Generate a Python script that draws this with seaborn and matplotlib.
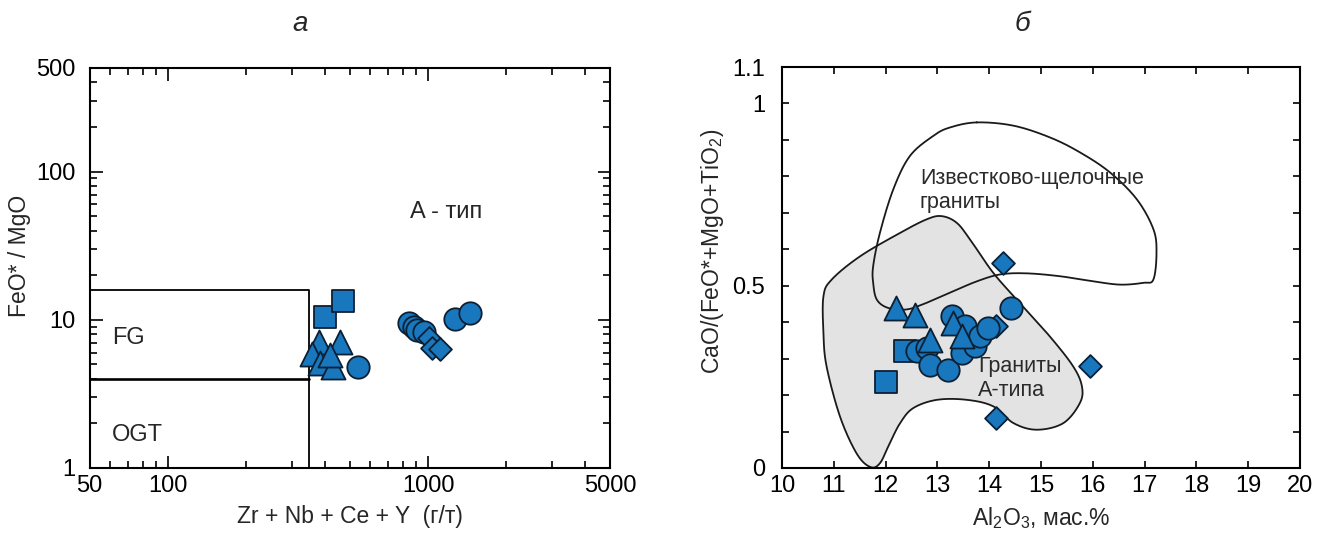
import numpy as np
import pandas as pd
import matplotlib
matplotlib.use("Agg")
import matplotlib.pyplot as plt
from matplotlib.ticker import FixedLocator, FixedFormatter, NullFormatter
import seaborn as sns

# ---------------- Panel а: Zr+Nb+Ce+Y (г/т) vs FeO*/MgO ----------------
sq_a_x = [400, 473]
sq_a_y = [10.5, 13.3]
tri_a_x = [380, 460, 358, 385, 433, 420]
tri_a_y = [7.1, 7.1, 5.9, 5.1, 4.8, 5.8]
circ_a_x = [538, 842, 880, 906, 961, 1273, 1452]
circ_a_y = [4.8, 9.5, 9.0, 8.5, 8.3, 10.2, 11.1]
dia_a_x = [1005, 1035, 1114]
dia_a_y = [7.5, 6.5, 6.4]

# field boundaries (Whalen et al.): FG / OGT box
fg_x_max = 350
fg_y_low, fg_y_high = 4, 16

xticks_a = [50, 100, 1000, 5000]
yticks_a = [1, 10, 100, 500]

# ---------------- Panel б: Al2O3 vs CaO/(FeO*+MgO+TiO2) ----------------
sq_b_x = [12.37, 12.01]
sq_b_y = [0.320, 0.237]
tri_b_x = [12.21, 12.57, 12.86, 13.31, 13.47]
tri_b_y = [0.439, 0.421, 0.352, 0.398, 0.361]
circ_b_x = [12.60, 12.79, 12.86, 13.21, 13.28, 13.47, 13.53, 13.73, 13.82, 13.98, 14.43]
circ_b_y = [0.320, 0.329, 0.283, 0.270, 0.416, 0.315, 0.389, 0.334, 0.361, 0.384, 0.439]
dia_b_x = [14.26, 15.95, 14.13, 14.14]
dia_b_y = [0.563, 0.279, 0.137, 0.389]

# outline of the A-type granite field
a_type_x = [11.70, 11.44, 11.12, 10.86, 10.80, 10.80, 10.96, 11.51, 12.28, 12.79,
            13.08, 13.37, 13.63, 14.08, 14.59, 15.17, 15.62, 15.79, 15.75, 15.43,
            14.92, 14.47, 14.08, 13.57, 12.99, 12.53, 12.28, 12.08, 11.89]
a_type_y = [0.003, 0.040, 0.141, 0.279, 0.370, 0.471, 0.517, 0.581, 0.645, 0.682,
            0.691, 0.673, 0.627, 0.535, 0.453, 0.361, 0.279, 0.224, 0.178, 0.123,
            0.105, 0.123, 0.169, 0.187, 0.187, 0.164, 0.123, 0.068, 0.013]

# outline of the calc-alkaline granite field
ca_x = [13.76, 14.47, 15.17, 15.75, 16.33, 16.85, 17.17, 17.23, 17.17, 16.98,
        16.53, 16.01, 15.37, 14.72, 14.21, 13.76, 13.31, 12.79, 12.41, 12.05,
        11.83, 11.76, 11.76, 11.89, 12.15, 12.47, 12.92, 13.24]
ca_y = [0.948, 0.939, 0.907, 0.866, 0.811, 0.737, 0.655, 0.590, 0.517, 0.508,
        0.503, 0.512, 0.526, 0.534, 0.531, 0.512, 0.485, 0.453, 0.435, 0.439,
        0.462, 0.508, 0.554, 0.645, 0.765, 0.856, 0.911, 0.934]

xticks_b = list(range(10, 21))
yticks_b = [round(0.1 * i, 1) for i in range(12)]
ylabels_b = ["0", "", "", "", "", "0.5", "", "", "", "", "1", "1.1"]

FILL = "#1877bd"
EDGE = "#0c2033"
FIELD_GREY = "#e3e3e3"

sns.set_style("ticks")
plt.rcParams["font.family"] = ["Liberation Sans", "DejaVu Sans"]
plt.rcParams["mathtext.fontset"] = "custom"
plt.rcParams["mathtext.rm"] = "Liberation Sans"
plt.rcParams["mathtext.it"] = "Liberation Sans:italic"
plt.rcParams["mathtext.bf"] = "Liberation Sans:bold"


def closed_spline(xs, ys, n=24):
    """Smooth closed Catmull-Rom curve through the outline vertices."""
    p = np.column_stack([xs, ys])
    m = len(p)
    t = np.linspace(0, 1, n, endpoint=False)[:, None]
    segs = []
    for i in range(m):
        p0, p1, p2, p3 = p[(i - 1) % m], p[i], p[(i + 1) % m], p[(i + 2) % m]
        segs.append(0.5 * (2 * p1 + (-p0 + p2) * t
                           + (2 * p0 - 5 * p1 + 4 * p2 - p3) * t ** 2
                           + (-p0 + 3 * p1 - 3 * p2 + p3) * t ** 3))
    c = np.vstack(segs)
    c = np.vstack([c, c[:1]])
    return c[:, 0], c[:, 1]


def make_frame(groups):
    parts = [pd.DataFrame({"x": gx, "y": gy, "kind": k}) for k, gx, gy in groups]
    return pd.concat(parts, ignore_index=True)


marker_styles = {
    "square": ("s", 235),
    "diamond": ("D", 135),
    "circle": ("o", 260),
    "triangle": ("^", 300),
}


def draw_points(ax, df, order):
    for i, kind in enumerate(order):
        mk, size = marker_styles[kind]
        sub = df[df["kind"] == kind]
        sns.scatterplot(data=sub, x="x", y="y", marker=mk, s=size, color=FILL,
                        edgecolor=EDGE, linewidth=1.3, ax=ax, legend=False,
                        zorder=5 + i)


fig = plt.figure(figsize=(13.33, 5.34), dpi=100)
W, H = 1333, 534
ax_a = fig.add_axes([89.5 / W, 66 / H, 520.5 / W, 400 / H])
ax_b = fig.add_axes([782 / W, 66 / H, 518 / W, 401 / H])

TICK_FS = 17
LABEL_FS = 16.5
NOTE_FS = 17
FIELD_FS = 15.5

# ---------- panel а ----------
df_a = make_frame([("square", sq_a_x, sq_a_y), ("triangle", tri_a_x, tri_a_y),
                   ("circle", circ_a_x, circ_a_y), ("diamond", dia_a_x, dia_a_y)])
ax_a.plot([50, fg_x_max, fg_x_max], [fg_y_high, fg_y_high, 1], color="black", lw=1.3, zorder=3)
ax_a.plot([50, fg_x_max], [fg_y_low, fg_y_low], color="black", lw=1.9, zorder=3)
draw_points(ax_a, df_a, ["square", "triangle", "circle", "diamond"])

ax_a.set_xscale("log")
ax_a.set_yscale("log")
ax_a.set_xlim(50, 5000)
ax_a.set_ylim(1, 500)
ax_a.xaxis.set_major_locator(FixedLocator(xticks_a))
ax_a.xaxis.set_major_formatter(FixedFormatter([str(v) for v in xticks_a]))
ax_a.xaxis.set_minor_locator(FixedLocator([60, 70, 80, 90] + list(range(200, 1000, 100))
                                          + [2000, 3000, 4000]))
ax_a.xaxis.set_minor_formatter(NullFormatter())
ax_a.yaxis.set_major_locator(FixedLocator(yticks_a))
ax_a.yaxis.set_major_formatter(FixedFormatter([str(v) for v in yticks_a]))
ax_a.yaxis.set_minor_locator(FixedLocator(list(range(2, 10)) + list(range(20, 100, 10))
                                          + [200, 300, 400]))
ax_a.yaxis.set_minor_formatter(NullFormatter())
ax_a.tick_params(axis="x", which="major", pad=5)
ax_a.tick_params(axis="y", which="major", pad=10)
ax_a.set_xlabel("Zr + Nb + Ce + Y  (г/т)", fontsize=LABEL_FS, labelpad=6)
ax_a.set_ylabel("FeO* / MgO", fontsize=LABEL_FS)
ax_a.yaxis.set_label_coords(-0.112, 0.53)

ax_a.text(850, 53, "A - тип", fontsize=NOTE_FS, va="center", ha="left")
ax_a.text(61, 7.5, "FG", fontsize=NOTE_FS, va="center", ha="left")
ax_a.text(61, 1.66, "OGT", fontsize=NOTE_FS, va="center", ha="left")

# ---------- panel б ----------
fx, fy = closed_spline(a_type_x, a_type_y)
ax_b.fill(fx, fy, facecolor=FIELD_GREY, edgecolor="none", zorder=1)
ax_b.plot(fx, fy, color="#1a1a1a", lw=1.3, zorder=2)
cx, cy = closed_spline(ca_x, ca_y)
ax_b.plot(cx, cy, color="#1a1a1a", lw=1.3, zorder=2)

df_b = make_frame([("square", sq_b_x, sq_b_y), ("triangle", tri_b_x, tri_b_y),
                   ("circle", circ_b_x, circ_b_y), ("diamond", dia_b_x, dia_b_y)])
draw_points(ax_b, df_b, ["square", "diamond", "circle", "triangle"])

ax_b.set_xlim(10, 20)
ax_b.set_ylim(0, 1.1)
ax_b.xaxis.set_major_locator(FixedLocator(xticks_b))
ax_b.xaxis.set_major_formatter(FixedFormatter([str(v) for v in xticks_b]))
ax_b.yaxis.set_major_locator(FixedLocator(yticks_b))
ax_b.yaxis.set_major_formatter(FixedFormatter(ylabels_b))
ax_b.tick_params(axis="x", which="major", pad=5)
ax_b.tick_params(axis="y", which="major", pad=12)
ax_b.set_xlabel("Al$_2$O$_3$, мас.%", fontsize=LABEL_FS, labelpad=6)
ax_b.set_ylabel("CaO/(FeO*+MgO+TiO$_2$)", fontsize=LABEL_FS)
ax_b.yaxis.set_label_coords(-0.108, 0.54)

ax_b.text(12.66, 0.762, "Известково-щелочные\nграниты", fontsize=FIELD_FS,
          va="center", ha="left", linespacing=1.2, color="#2a2a2a", zorder=3)
ax_b.text(13.79, 0.245, "Граниты\nА-типа", fontsize=FIELD_FS,
          va="center", ha="left", linespacing=1.2, color="#2a2a2a", zorder=3)

for ax in (ax_a, ax_b):
    ax.set_facecolor("white")
    for sp in ax.spines.values():
        sp.set_color("black")
        sp.set_linewidth(1.5)
        sp.set_visible(True)
    ax.tick_params(which="both", direction="in", top=True, right=True,
                   colors="black", labelsize=TICK_FS, width=1.2)
    ax.tick_params(which="major", length=9)
    ax.tick_params(which="minor", length=5)
ax_b.tick_params(which="major", length=5)

fig.text(300 / W, 1 - 24 / H, "а", fontsize=20, style="italic", ha="center", va="center")
fig.text(1022 / W, 1 - 24 / H, "б", fontsize=20, style="italic", ha="center", va="center")

fig.savefig("out.png", dpi=100, facecolor="white")
